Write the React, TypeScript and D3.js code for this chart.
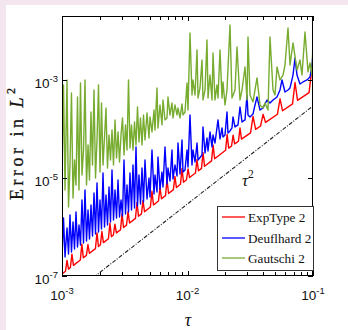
import * as d3 from 'd3';

// [tau, error in L2]
const expType2: [number, number][] = [
  [1.0e-3, 1.1e-7],
  [1.066e-3, 1.25e-7], [1.096e-3, 2.08e-7], [1.127e-3, 1.38e-7],
  [1.167e-3, 1.49e-7], [1.2e-3, 2.79e-7], [1.234e-3, 1.65e-7],
  [1.4e-3, 2.12e-7], [1.44e-3, 4.46e-7], [1.48e-3, 2.35e-7],
  [1.565e-3, 2.63e-7], [1.61e-3, 4.39e-7], [1.655e-3, 2.91e-7],
  [1.847e-3, 3.62e-7], [1.9e-3, 7.6e-7], [1.953e-3, 4.0e-7],
  [2.022e-3, 4.33e-7], [2.08e-3, 8.1e-7], [2.138e-3, 4.79e-7],
  [2.343e-3, 5.74e-7], [2.41e-3, 1.2e-6], [2.477e-3, 6.34e-7],
  [2.566e-3, 6.85e-7], [2.64e-3, 1.14e-6], [2.714e-3, 7.57e-7],
  [2.926e-3, 8.81e-7], [3.01e-3, 1.85e-6], [3.094e-3, 9.73e-7],
  [3.266e-3, 1.09e-6], [3.36e-3, 2.04e-6], [3.454e-3, 1.21e-6],
  [3.849e-3, 1.5e-6], [3.96e-3, 3.16e-6], [4.07e-3, 1.66e-6],
  [4.296e-3, 1.85e-6], [4.42e-3, 3.47e-6], [4.544e-3, 2.05e-6],
  [5.064e-3, 2.56e-6], [5.21e-3, 5.37e-6], [5.356e-3, 2.82e-6],
  [5.871e-3, 3.4e-6], [6.04e-3, 6.37e-6], [6.209e-3, 3.76e-6],
  [6.678e-3, 4.36e-6], [6.87e-3, 9.2e-6], [7.062e-3, 4.82e-6],
  [7.718e-3, 5.78e-6], [7.94e-3, 1.08e-5], [8.162e-3, 6.38e-6],
  [8.787e-3, 7.43e-6], [9.04e-3, 1.56e-5], [9.293e-3, 8.21e-6],
  [9.82e-3, 9.2e-6], [1.01e-2, 1.53e-5], [1.038e-2, 1.02e-5],
  [1.157e-2, 1.26e-5], [1.19e-2, 2.37e-5], [1.223e-2, 1.4e-5],
  [1.293e-2, 1.57e-5], [1.33e-2, 3.3e-5], [1.367e-2, 1.73e-5],
  [1.555e-2, 2.23e-5], [1.6e-2, 4.69e-5], [1.645e-2, 2.47e-5],
  [2.012e-2, 3.68e-5], [2.07e-2, 7.73e-5], [2.128e-2, 4.06e-5],
  [2.245e-2, 4.5e-5], [2.31e-2, 7.5e-5], [2.375e-2, 4.97e-5],
  [2.547e-2, 5.63e-5], [2.62e-2, 1.05e-4], [2.693e-2, 6.23e-5],
  [3.18e-2, 8.34e-5], [3.33e-2, 1.8e-4], [3.49e-2, 9.8e-5],
  [3.82e-2, 1.15e-4], [4.0e-2, 1.99e-4], [4.19e-2, 1.36e-4],
  [5.21e-2, 2.0e-4], [5.46e-2, 4.13e-4], [5.72e-2, 2.35e-4],
  [6.87e-2, 3.26e-4], [7.19e-2, 8.87e-4], [7.53e-2, 3.83e-4],
  [9.3e-2, 5.5e-4], [1.0e-1, 2.6e-3],
];

const deuflhard2: [number, number][] = [
  [1.0e-3, 2.22e-7], [1.028e-3, 1.53e-6], [1.057e-3, 2.44e-7], [1.096e-3, 9.55e-7],
  [1.127e-3, 2.81e-7], [1.158e-3, 1.76e-6], [1.19e-3, 3.09e-7], [1.224e-3, 1.26e-6],
  [1.258e-3, 3.56e-7], [1.293e-3, 2.02e-6], [1.329e-3, 3.91e-7], [1.366e-3, 1.1e-6],
  [1.404e-3, 4.3e-7], [1.443e-3, 3.56e-6], [1.484e-3, 4.71e-7], [1.525e-3, 5.69e-6],
  [1.568e-3, 5.18e-7], [1.612e-3, 2.22e-6], [1.656e-3, 5.69e-7], [1.702e-3, 2.81e-6],
  [1.75e-3, 6.55e-7], [1.799e-3, 4.94e-6], [1.849e-3, 7.2e-7], [1.901e-3, 7.91e-6],
  [1.954e-3, 7.91e-7], [2.008e-3, 3.56e-6], [2.064e-3, 9.1e-7], [2.122e-3, 1.26e-5],
  [2.181e-3, 1.0e-6], [2.242e-3, 4.5e-6], [2.304e-3, 1.1e-6], [2.369e-3, 6.55e-6],
  [2.435e-3, 1.26e-6], [2.503e-3, 1.46e-5], [2.573e-3, 1.39e-6], [2.645e-3, 5.69e-6],
  [2.719e-3, 1.53e-6], [2.795e-3, 9.1e-6], [2.872e-3, 1.6e-6], [2.953e-3, 3.56e-6],
  [3.035e-3, 1.68e-6], [3.12e-3, 2.33e-5], [3.206e-3, 1.84e-6], [3.296e-3, 7.19e-6],
  [3.388e-3, 2.02e-6], [3.482e-3, 1.26e-5], [3.579e-3, 2.22e-6], [3.679e-3, 1.84e-5],
  [3.782e-3, 2.44e-6], [3.887e-3, 4.3e-5], [3.996e-3, 2.68e-6], [4.107e-3, 1.15e-5],
  [4.222e-3, 2.94e-6], [4.34e-3, 1.6e-5], [4.461e-3, 3.24e-6], [4.585e-3, 2.33e-5],
  [4.757e-3, 3.73e-6], [4.934e-3, 1.0e-5], [5.025e-3, 4.09e-6], [5.213e-3, 3.72e-5],
  [5.408e-3, 4.71e-6], [5.508e-3, 1.15e-5], [5.714e-3, 5.18e-6], [5.819e-3, 2.69e-5],
  [6.037e-3, 5.96e-6], [6.263e-3, 1.32e-5], [6.378e-3, 6.55e-6], [6.617e-3, 4.3e-5],
  [6.865e-3, 7.55e-6], [6.991e-3, 1.6e-5], [7.253e-3, 8.69e-6], [7.524e-3, 3.72e-5],
  [7.663e-3, 9.54e-6], [7.95e-3, 1.84e-5], [8.247e-3, 1.1e-5], [8.4e-3, 5.18e-5],
  [8.714e-3, 1.21e-5], [9.041e-3, 5.97e-5], [9.207e-3, 1.32e-5], [9.552e-3, 1.46e-5],
  [9.909e-3, 3.72e-5], [1.009e-2, 1.67e-5], [1.047e-2, 1.93e-4], [1.086e-2, 1.84e-5],
  [1.106e-2, 3.72e-5], [1.148e-2, 2.12e-5], [1.191e-2, 5.18e-5], [1.213e-2, 2.33e-5],
  [1.305e-2, 2.94e-5], [1.329e-2, 1.1e-4], [1.379e-2, 3.24e-5], [1.43e-2, 6.55e-5],
  [1.457e-2, 3.56e-5], [1.511e-2, 8.69e-5], [1.568e-2, 4.3e-5], [1.597e-2, 7.55e-5],
  [1.656e-2, 5.18e-5], [1.75e-2, 1.53e-4], [1.816e-2, 6.25e-5], [1.884e-2, 1.05e-4],
  [1.918e-2, 6.87e-5], [1.99e-2, 7.55e-5], [2.064e-2, 2.22e-4], [2.102e-2, 8.28e-5],
  [2.181e-2, 9.1e-5], [2.262e-2, 1.05e-4], [2.304e-2, 1.76e-4], [2.39e-2, 1.1e-4],
  [2.526e-2, 1.21e-4], [2.62e-2, 2.81e-4], [2.719e-2, 1.39e-4], [2.872e-2, 1.53e-4],
  [2.98e-2, 4.94e-4], [3.035e-2, 1.93e-4], [3.148e-2, 1.76e-4], [3.326e-2, 2.02e-4],
  [3.451e-2, 3.09e-4], [3.579e-2, 4.5e-4], [3.782e-2, 2.44e-4], [3.996e-2, 2.68e-4],
  [4.3e-2, 3.91e-4], [4.543e-2, 3.4e-4], [4.801e-2, 3.91e-4], [5.166e-2, 4.5e-4],
  [5.459e-2, 6.25e-4], [5.662e-2, 1.0e-3], [5.983e-2, 5.69e-4], [6.322e-2, 6.25e-4],
  [6.558e-2, 6.87e-4], [6.929e-2, 1.26e-3], [7.188e-2, 2.81e-3], [7.457e-2, 1.26e-3],
  [7.878e-2, 8.28e-4], [8.325e-2, 9.1e-4], [8.959e-2, 1.0e-3], [9.465e-2, 1.15e-3],
  [9.818e-2, 1.93e-3], [1.0e-1, 3.73e-3],
];

const gautschi2: [number, number][] = [
  [1.0e-3, 1.15e-5], [1.028e-3, 7.91e-4], [1.057e-3, 5.69e-6], [1.096e-3, 1.0e-3],
  [1.127e-3, 2.56e-6], [1.158e-3, 1.84e-5], [1.19e-3, 5.43e-4], [1.224e-3, 3.91e-6],
  [1.258e-3, 2.33e-5], [1.293e-3, 7.19e-6], [1.329e-3, 4.5e-4], [1.366e-3, 5.69e-6],
  [1.404e-3, 8.69e-4], [1.443e-3, 1.15e-5], [1.484e-3, 3.72e-5], [1.525e-3, 1.0e-3],
  [1.568e-3, 7.19e-6], [1.612e-3, 4.71e-5], [1.656e-3, 9.1e-6], [1.702e-3, 2.22e-4],
  [1.75e-3, 1.84e-5], [1.799e-3, 6.25e-4], [1.849e-3, 1.0e-5], [1.901e-3, 5.97e-5],
  [1.954e-3, 7.91e-4], [2.008e-3, 1.32e-5], [2.064e-3, 3.4e-4], [2.122e-3, 1.84e-5],
  [2.181e-3, 6.55e-5], [2.242e-3, 2.68e-4], [2.304e-3, 1.6e-5], [2.369e-3, 7.55e-5],
  [2.435e-3, 2.33e-5], [2.503e-3, 9.55e-5], [2.573e-3, 1.84e-5], [2.645e-3, 1.53e-4],
  [2.719e-3, 2.56e-5], [2.795e-3, 8.69e-5], [2.872e-3, 2.12e-5], [2.953e-3, 7.55e-5],
  [3.035e-3, 1.68e-4], [3.12e-3, 2.94e-5], [3.206e-3, 1.21e-4], [3.296e-3, 3.72e-5],
  [3.388e-3, 1.0e-3], [3.482e-3, 4.09e-5], [3.579e-3, 1.21e-4], [3.679e-3, 3.72e-5],
  [3.782e-3, 1.39e-4], [3.887e-3, 4.71e-5], [3.996e-3, 2.81e-4], [4.107e-3, 5.43e-5],
  [4.222e-3, 1.68e-4], [4.34e-3, 4.71e-5], [4.461e-3, 1.93e-4], [4.585e-3, 5.97e-5],
  [4.757e-3, 2.12e-4], [4.934e-3, 6.55e-5], [5.025e-3, 1.76e-4], [5.213e-3, 8.69e-5],
  [5.408e-3, 2.44e-4], [5.508e-3, 9.55e-5], [5.714e-3, 6.87e-4], [5.819e-3, 1.05e-4],
  [6.037e-3, 3.09e-4], [6.263e-3, 1.21e-4], [6.378e-3, 3.91e-4], [6.617e-3, 1.53e-4],
  [6.865e-3, 1.68e-4], [6.991e-3, 4.5e-4], [7.253e-3, 1.93e-4], [7.524e-3, 3.4e-4],
  [7.663e-3, 1.68e-4], [7.95e-3, 3.09e-4], [8.247e-3, 1.93e-4], [8.4e-3, 2.68e-4],
  [8.714e-3, 1.68e-4], [9.041e-3, 3.24e-4], [9.207e-3, 1.93e-4], [9.552e-3, 2.22e-4],
  [9.909e-3, 8.69e-4], [1.009e-2, 2.44e-4], [1.047e-2, 9.1e-3], [1.086e-2, 4.94e-4],
  [1.106e-2, 1.0e-3], [1.148e-2, 4.94e-4], [1.191e-2, 4.09e-3], [1.213e-2, 4.3e-4],
  [1.258e-2, 6.87e-4], [1.305e-2, 2.56e-3], [1.329e-2, 3.91e-4], [1.379e-2, 6.25e-4],
  [1.43e-2, 6.55e-3], [1.457e-2, 4.3e-4], [1.511e-2, 1.26e-3], [1.568e-2, 3.91e-4],
  [1.597e-2, 3.56e-3], [1.656e-2, 3.91e-4], [1.718e-2, 7.91e-4], [1.75e-2, 4.3e-4],
  [1.816e-2, 4.09e-3], [1.884e-2, 4.3e-4], [1.918e-2, 9.1e-4], [1.99e-2, 3.09e-4],
  [2.064e-2, 6.25e-4], [2.181e-2, 1.33e-2], [2.262e-2, 4.3e-4], [2.39e-2, 6.25e-4],
  [2.48e-2, 4.71e-3], [2.62e-2, 3.91e-4], [2.719e-2, 6.25e-4], [2.872e-2, 1.84e-3],
  [2.98e-2, 3.91e-4], [3.035e-2, 7.55e-3], [3.148e-2, 4.94e-4], [3.326e-2, 3.56e-4],
  [3.579e-2, 1.1e-3], [3.782e-2, 3.09e-4], [3.996e-2, 2.68e-4], [4.145e-2, 3.4e-4],
  [4.38e-2, 2.44e-4], [4.543e-2, 7.55e-3], [4.801e-2, 6.25e-4], [4.98e-2, 4.94e-4],
  [5.166e-2, 1.84e-3], [5.459e-2, 1.0e-3], [5.768e-2, 1.26e-3], [5.983e-2, 2.02e-3],
  [6.322e-2, 1.15e-2], [6.558e-2, 2.02e-3], [6.929e-2, 5.69e-3], [7.457e-2, 1.6e-3],
  [7.878e-2, 2.56e-3], [8.173e-2, 1.26e-3], [8.636e-2, 9.54e-3], [9.125e-2, 1.46e-3],
  [9.465e-2, 2.22e-3], [9.818e-2, 1.26e-3], [1.0e-1, 7.55e-3],
];

// reference slope line  ~ 0.03 * tau^2
const tauSquared: [number, number][] = [[1.0e-3, 2.95e-8], [1.0e-1, 2.95e-4]];

const xMajorTicks = [1e-3, 1e-2, 1e-1];
const xTickExp = ['-3', '-2', '-1'];
const yMajorTicks = [1e-7, 1e-5, 1e-3];
const yTickExp = ['-7', '-5', '-3'];

const seriesNames = ['ExpType 2', 'Deuflhard 2', 'Gautschi 2'];
const seriesColors = ['#ff0000', '#0000ff', '#77ac30'];

const W = 348;
const H = 330;
const plot = { left: 62, right: 313, top: 16, bottom: 276 };
const serif = '"Liberation Serif", "DejaVu Serif", serif';
const sans = '"Liberation Sans", Arial, sans-serif';

export default function App() {
  const x = d3.scaleLog().domain([1e-3, 1e-1]).range([plot.left, plot.right]);
  const y = d3.scaleLog().domain([1e-7, 2.02e-2]).range([plot.bottom, plot.top]);
  const line = d3.line<[number, number]>().x(d => x(d[0])).y(d => y(d[1]));

  const series = [expType2, deuflhard2, gautschi2];
  const minorX = x.ticks().filter(t => !xMajorTicks.some(m => Math.abs(m - t) / m < 1e-6));

  const tickLen = 4;
  const legend = { x: 217, y: 206, w: 96, h: 64 };
  const rowY = [217, 238, 258];

  return (
    <svg width={W} height={H} style={{ position: 'absolute', left: 0, top: 0 }}>
      <rect x={0} y={0} width={W} height={H} fill="#f3e6ee" />
      <rect x={6} y={5} width={W - 6} height={H - 5} fill="#ffffff" />
      <defs>
        <clipPath id="plot-clip">
          <rect x={plot.left} y={plot.top} width={plot.right - plot.left} height={plot.bottom - plot.top} />
        </clipPath>
      </defs>

      <g clipPath="url(#plot-clip)" fill="none" strokeLinejoin="round">
        {series.map((s, i) => (
          <path key={seriesNames[i]} d={line(s) || ''} stroke={seriesColors[i]} strokeWidth={1.4} />
        ))}
        <path d={line(tauSquared) || ''} stroke="#222" strokeWidth={1.1} strokeDasharray="4,1.5,1,1.5" />
      </g>

      {/* box */}
      <rect
        x={plot.left + 0.5}
        y={plot.top + 0.5}
        width={plot.right - plot.left - 1}
        height={plot.bottom - plot.top - 1}
        fill="none"
        stroke="#000"
        strokeWidth={1}
      />

      {/* x ticks, bottom and top; y ticks left and right */}
      <g stroke="#000" strokeWidth={1}>
        {xMajorTicks.concat(minorX).map((t, i) => {
          const px = Math.round(x(t)) + 0.5;
          const len = i < xMajorTicks.length ? tickLen + 1 : tickLen;
          return (
            <g key={'xt' + i}>
              <line x1={px} x2={px} y1={plot.bottom} y2={plot.bottom - len} />
              <line x1={px} x2={px} y1={plot.top} y2={plot.top + len} />
            </g>
          );
        })}
        {yMajorTicks.map((t, i) => {
          const py = Math.round(y(t)) + 0.5;
          return (
            <g key={'yt' + i}>
              <line x1={plot.left} x2={plot.left + tickLen + 1} y1={py} y2={py} />
              <line x1={plot.right} x2={plot.right - tickLen - 1} y1={py} y2={py} />
            </g>
          );
        })}
      </g>

      {/* tick labels */}
      <g fontFamily={sans} fill="#111">
        {xMajorTicks.map((t, i) => (
          <text key={'xl' + i} x={x(t)} y={300} textAnchor="middle" fontSize={13.5}>
            10<tspan dy={-6} fontSize={9.5}>{xTickExp[i]}</tspan>
          </text>
        ))}
        {yMajorTicks.map((t, i) => (
          <text key={'yl' + i} x={58} y={y(t) + 8} textAnchor="end" fontSize={13.5}>
            10<tspan dy={-6} fontSize={9.5}>{yTickExp[i]}</tspan>
          </text>
        ))}
      </g>

      {/* axis labels */}
      <text x={188} y={326} textAnchor="middle" fontFamily={serif} fontStyle="italic" fontSize={18} fill="#111">
        τ
      </text>
      <text
        transform="translate(23,144) rotate(-90)"
        textAnchor="middle"
        fontFamily={serif}
        fontSize={18}
        fill="#111"
        stroke="#111"
        strokeWidth={0.3}
        textLength={112}
        lengthAdjust="spacing"
      >
        Error in <tspan fontStyle="italic">L</tspan>
        <tspan dy={-8} fontSize={12}>2</tspan>
      </text>

      {/* slope annotation */}
      <text x={242} y={186} fontFamily={serif} fontStyle="italic" fontSize={17} fill="#111">
        τ<tspan dy={-8} fontSize={11.5} fontStyle="normal">2</tspan>
      </text>

      {/* legend */}
      <rect x={legend.x + 0.5} y={legend.y + 0.5} width={legend.w} height={legend.h} fill="#fff" stroke="#333" strokeWidth={1} />
      {seriesNames.map((name, i) => (
        <g key={name}>
          <line x1={222} x2={245} y1={rowY[i]} y2={rowY[i]} stroke={seriesColors[i]} strokeWidth={1.3} />
          <text x={248} y={rowY[i] + 4.5} fontFamily={serif} fontSize={13.2} fill="#111">
            {name}
          </text>
        </g>
      ))}
    </svg>
  );
}
